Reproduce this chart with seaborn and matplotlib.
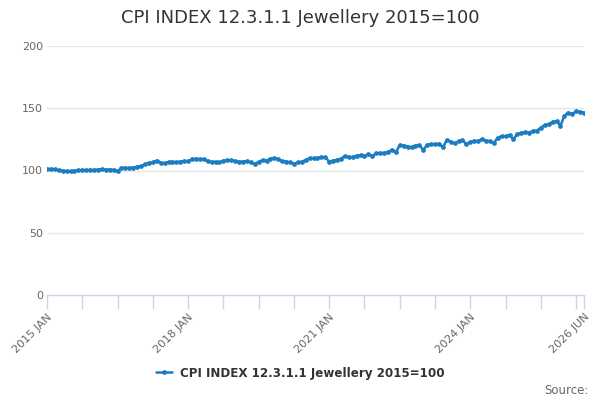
import matplotlib
matplotlib.use("Agg")
import matplotlib.pyplot as plt
import seaborn as sns
import pandas as pd
import numpy as np

title = "CPI INDEX 12.3.1.1 Jewellery 2015=100"
series_name = "CPI INDEX 12.3.1.1 Jewellery 2015=100"
start_month = "2015-01"
n_months = 138

values_2015 = [101.2, 101.2, 101.0, 100.2, 99.8, 99.5, 99.4, 99.7, 100.2, 100.4, 100.2, 100.6]
values_2016 = [100.3, 100.8, 101.0, 100.7, 100.8, 100.5, 99.2, 102.2, 102.2, 101.9, 102.4, 103.0]
values_2017 = [103.4, 105.0, 106.0, 106.5, 108.0, 106.2, 105.8, 106.8, 107.0, 106.6, 107.2, 107.6]
values_2018 = [107.4, 109.0, 109.5, 109.0, 109.2, 107.5, 106.8, 107.0, 106.5, 107.8, 108.4, 108.2]
values_2019 = [107.5, 107.0, 107.2, 107.5, 106.5, 105.2, 107.0, 108.4, 108.0, 109.5, 109.8, 109.0]
values_2020 = [107.5, 107.2, 106.5, 105.3, 106.5, 107.0, 108.5, 109.8, 109.8, 110.0, 110.5, 110.8]
values_2021 = [107.0, 108.0, 108.5, 109.5, 111.5, 111.0, 110.5, 112.0, 112.4, 111.5, 113.0, 111.5]
values_2022 = [113.8, 114.0, 114.0, 115.0, 116.5, 114.5, 120.5, 120.0, 119.2, 118.6, 120.0, 120.3]
values_2023 = [116.5, 120.8, 121.2, 121.0, 121.5, 118.6, 124.5, 123.2, 121.8, 123.5, 124.5, 121.0]
values_2024 = [123.0, 123.8, 123.7, 125.3, 124.0, 123.5, 122.0, 126.5, 127.5, 127.5, 128.5, 125.0]
values_2025 = [129.5, 130.0, 130.7, 130.5, 131.7, 132.0, 134.5, 136.5, 137.0, 139.2, 139.5, 136.0]
values_2026 = [144.0, 146.5, 145.5, 147.5, 147.0, 146.5]

values = (values_2015 + values_2016 + values_2017 + values_2018 + values_2019 + values_2020
          + values_2021 + values_2022 + values_2023 + values_2024 + values_2025 + values_2026)

tick_every = 9
label_months = [0, 36, 72, 108, 137]
label_texts = ["2015 JAN", "2018 JAN", "2021 JAN", "2024 JAN", "2026 JUN"]
y_ticks = [0, 50, 100, 150, 200]

df = pd.DataFrame({"month": np.arange(len(values)), "value": values, "series": series_name})

sns.set_theme(style="white")
plt.rcParams['font.family'] = ['DejaVu Sans']

fig = plt.figure(figsize=(6, 4), dpi=100)
ax = fig.add_axes([47/600, 1 - 295/400, (584 - 47)/600, (295 - 46)/400])

line_color = "#1a7dc2"
sns.lineplot(data=df, x="month", y="value", hue="series", palette=[line_color],
             marker="o", markersize=3.4, markeredgewidth=0, linewidth=1.8, ax=ax, legend=False)

ax.set_xlim(0, n_months - 1)
ax.set_ylim(0, 200)
ax.set_yticks(y_ticks)
ax.set_yticklabels([str(t) for t in y_ticks], color="#666666", fontsize=8)
ax.yaxis.grid(True, color="#e6e6e6", linewidth=1)
ax.tick_params(axis="y", length=0, pad=3)

xt = list(range(0, n_months, tick_every)) + [n_months - 1]
ax.set_xticks(xt)
lbls = []
for t in xt:
    lbls.append(label_texts[label_months.index(t)] if t in label_months else "")
ax.set_xticklabels(lbls, rotation=45, ha="right", rotation_mode="anchor",
                   color="#666666", fontsize=8)
ax.tick_params(axis="x", length=10, width=1, color="#ccd6eb", direction="out", pad=2, bottom=True)
ax.set_xlabel("")
ax.set_ylabel("")

for s in ["top", "right", "left"]:
    ax.spines[s].set_visible(False)
ax.spines["bottom"].set_color("#ccd6eb")
ax.spines["bottom"].set_linewidth(1)
ax.set_axisbelow(True)

fig.text(0.5, 1 - 18/400, title, ha="center", va="center", fontsize=13, color="#333333")

from matplotlib.lines import Line2D
handle = Line2D([0], [0], color=line_color, linewidth=1.8, marker="o", markersize=3.4,
                markeredgewidth=0)
fig.legend([handle], [series_name], loc="center", bbox_to_anchor=(0.5, 1 - 373/400),
           frameon=False, prop={"weight": "bold", "size": 8.6}, handlelength=1.4,
           handletextpad=0.6, labelcolor="#333333")

fig.text(589/600, 1 - 390/400, "Source:", ha="right", va="center", fontsize=8.5, color="#666666")

fig.savefig("out.png", dpi=100)
